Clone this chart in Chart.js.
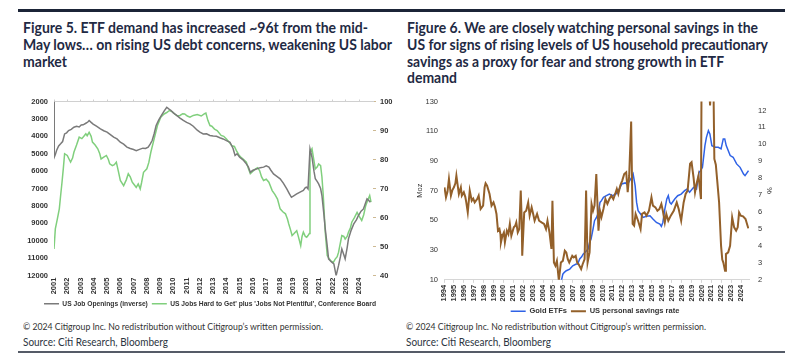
<!DOCTYPE html>
<html>
<head>
<meta charset="utf-8">
<script src="https://cdn.jsdelivr.net/npm/chart.js@4.4.1/dist/chart.umd.min.js"></script>
<style>
  body { margin: 0; width: 796px; height: 362px; background: #fff; position: relative; overflow: hidden; }
  .t { position: absolute; white-space: nowrap; transform-origin: 0 0; }
  .ttl { font: bold 14.5px/17px "Lato", sans-serif; color: #1f2a44; }
  .cp { font: 10px/12px "Lato", sans-serif; color: #333; }
  .src { font: 11px/13px "Lato", sans-serif; color: #2b3440; }
  .bar { position: absolute; background: #1b2437; }
  canvas { position: absolute; }
</style>
</head>
<body>
<div class="bar" style="left:18px;top:9px;width:767px;height:3px"></div>
<div class="bar" style="left:18px;top:351px;width:767px;height:2px;background:#555b67"></div>

<div class="t ttl" style="left:23px;top:19px" data-w="345">Figure 5. ETF demand has increased ~96t from the mid-</div>
<div class="t ttl" style="left:23px;top:36px" data-w="369">May lows… on rising US debt concerns, weakening US labor</div>
<div class="t ttl" style="left:23px;top:53px" data-w="44">market</div>

<div class="t ttl" style="left:407px;top:19px" data-w="351">Figure 6. We are closely watching personal savings in the</div>
<div class="t ttl" style="left:407px;top:36px" data-w="361">US for signs of rising levels of US household precautionary</div>
<div class="t ttl" style="left:407px;top:53px" data-w="317">savings as a proxy for fear and strong growth in ETF</div>
<div class="t ttl" style="left:407px;top:69px" data-w="50">demand</div>

<div class="t cp" style="left:23px;top:320px" data-w="300">© 2024 Citigroup Inc. No redistribution without Citigroup’s written permission.</div>
<div class="t src" style="left:23px;top:335px" data-w="145">Source: Citi Research, Bloomberg</div>
<div class="t cp" style="left:406px;top:320px" data-w="300">© 2024 Citigroup Inc. No redistribution without Citigroup’s written permission.</div>
<div class="t src" style="left:406px;top:335px" data-w="145">Source: Citi Research, Bloomberg</div>

<canvas id="c1" width="380" height="220" style="left:20px;top:95px"></canvas>
<canvas id="c2" width="390" height="225" style="left:400px;top:95px"></canvas>

<script>
// ---- Figure 5 data ----
const leftYears = [2001, 2002, 2003, 2004, 2005, 2006, 2007, 2008, 2009, 2010, 2011, 2012,
  2013, 2014, 2015, 2016, 2017, 2018, 2019, 2020, 2021, 2022, 2023, 2024];

// US job openings (thousands, plotted on inverted left axis)
const jobT = [2001.00, 2001.02, 2001.1, 2001.2, 2001.35, 2001.5, 2001.65, 2001.8, 2001.95, 2002.1,
  2002.3, 2002.5, 2002.7, 2002.9, 2003.05, 2003.2, 2003.4, 2003.55, 2003.65, 2003.8,
  2003.95, 2004.2, 2004.5, 2004.75, 2005.0, 2005.25, 2005.5, 2005.75, 2006.0, 2006.25,
  2006.5, 2006.75, 2007.0, 2007.2, 2007.45, 2007.7, 2007.9, 2008.1, 2008.25, 2008.4,
  2008.55, 2008.7, 2008.9, 2009.1, 2009.3, 2009.5, 2009.65, 2009.8, 2010.0, 2010.25,
  2010.5, 2010.75, 2011.0, 2011.25, 2011.5, 2011.8, 2012.0, 2012.25, 2012.5, 2012.75,
  2013.0, 2013.25, 2013.5, 2013.75, 2014.0, 2014.27, 2014.5, 2014.65, 2014.8, 2015.0,
  2015.25, 2015.5, 2015.65, 2015.8, 2016.0, 2016.3, 2016.55, 2016.8, 2017.0, 2017.2,
  2017.35, 2017.55, 2017.8, 2018.05, 2018.3, 2018.55, 2018.75, 2018.9, 2019.1, 2019.3,
  2019.55, 2019.8, 2019.95, 2020.05, 2020.15, 2020.3, 2020.45, 2020.6, 2020.7, 2020.85,
  2020.95, 2021.1, 2021.2, 2021.35, 2021.45, 2021.6, 2021.7, 2021.9, 2022.1, 2022.27,
  2022.45, 2022.6, 2022.7, 2022.85, 2022.95, 2023.1, 2023.2, 2023.4, 2023.6, 2023.8,
  2023.95, 2024.15, 2024.33, 2024.5, 2024.6, 2024.75, 2024.85];
const jobV = [2000, 5200, 5050, 4800, 4550, 4430, 4300, 3860, 3800, 3670,
  3600, 3480, 3420, 3460, 3350, 3340, 3250, 3180, 3090, 3200,
  3300, 3420, 3570, 3680, 3760, 3900, 4050, 4150, 4340, 4450,
  4620, 4700, 4760, 4820, 4750, 4680, 4700, 4620, 4450, 4240,
  3850, 3380, 3050, 2800, 2550, 2330, 2420, 2500, 2650, 2800,
  2950, 3090, 3200, 3280, 3420, 3650, 3760, 3860, 3850, 3950,
  3980, 4000, 4080, 4150, 4250, 4340, 4700, 5100, 5000, 5200,
  5350, 5580, 5750, 6060, 5950, 5870, 5800, 5770, 5700, 5770,
  5950, 6160, 6300, 6440, 6700, 7020, 7300, 7500, 7400, 7310,
  7200, 7110, 6950, 6920, 7020, 4720, 5200, 6000, 6440, 6600,
  6730, 7000, 7400, 8500, 9320, 10300, 11040, 11200, 11330, 12000,
  11430, 10900, 10470, 10800, 11040, 10400, 9890, 9400, 9030, 8800,
  8550, 8300, 8170, 7800, 7590, 7700, 7790];

// Jobs hard to get + not plentiful (right axis)
const hardT = [2001.0, 2001.1, 2001.25, 2001.4, 2001.5, 2001.6, 2001.7, 2001.8, 2002.0, 2002.15,
  2002.25, 2002.4, 2002.5, 2002.7, 2002.9, 2003.1, 2003.25, 2003.4, 2003.5, 2003.65,
  2003.8, 2003.9, 2004.1, 2004.3, 2004.45, 2004.55, 2004.75, 2004.95, 2005.1, 2005.2,
  2005.4, 2005.55, 2005.7, 2005.85, 2006.0, 2006.25, 2006.45, 2006.6, 2006.75, 2006.9,
  2007.05, 2007.2, 2007.35, 2007.5, 2007.6, 2007.75, 2008.0, 2008.15, 2008.3, 2008.55,
  2008.8, 2009.05, 2009.3, 2009.5, 2009.7, 2009.9, 2010.1, 2010.3, 2010.5, 2010.7,
  2010.85, 2011.05, 2011.25, 2011.5, 2011.8, 2012.1, 2012.35, 2012.45, 2012.6, 2012.76,
  2012.9, 2013.1, 2013.3, 2013.6, 2013.8, 2014.0, 2014.2, 2014.4, 2014.6, 2014.75,
  2014.95, 2015.1, 2015.3, 2015.5, 2015.65, 2015.8, 2016.0, 2016.2, 2016.35, 2016.5,
  2016.65, 2016.8, 2017.0, 2017.2, 2017.45, 2017.65, 2017.85, 2018.05, 2018.25, 2018.45,
  2018.6, 2018.7, 2018.85, 2018.95, 2019.1, 2019.3, 2019.45, 2019.6, 2019.7, 2019.8,
  2019.95, 2020.05, 2020.15, 2020.25, 2020.3, 2020.45, 2020.6, 2020.7, 2020.85, 2020.95,
  2021.1, 2021.2, 2021.3, 2021.45, 2021.6, 2021.75, 2021.85, 2022.05, 2022.2, 2022.35,
  2022.45, 2022.6, 2022.7, 2022.85, 2022.95, 2023.1, 2023.2, 2023.35, 2023.45, 2023.65,
  2023.85, 2024.0, 2024.2, 2024.35, 2024.5, 2024.65, 2024.8, 2024.9];
const hardV = [49.2, 56.1, 59.5, 63.0, 67.6, 72.0, 76.8, 82.0, 81.4, 80.0,
  79.1, 80.5, 82.5, 85.0, 87.7, 87.2, 88.0, 88.9, 88.2, 89.4,
  88.0, 86.0, 85.0, 83.7, 82.0, 80.2, 80.8, 81.4, 80.0, 78.5,
  77.9, 78.2, 79.1, 76.0, 72.8, 71.0, 73.0, 75.1, 74.0, 72.2,
  71.3, 70.4, 71.6, 69.9, 72.0, 75.6, 76.8, 79.0, 82.5, 87.1,
  91.7, 94.6, 95.7, 96.2, 96.9, 96.5, 95.7, 95.0, 95.2, 95.8,
  95.7, 95.0, 94.6, 95.2, 95.5, 95.0, 95.8, 96.0, 93.5, 91.7,
  91.5, 90.5, 90.0, 88.3, 88.0, 87.1, 86.0, 84.8, 84.5, 83.1,
  81.5, 80.8, 80.0, 79.1, 77.0, 75.1, 76.0, 76.8, 77.2, 76.2,
  74.0, 72.8, 73.2, 72.2, 69.3, 68.0, 66.4, 63.0, 62.0, 61.3,
  59.5, 57.8, 55.5, 53.8, 54.5, 55.5, 53.0, 50.3, 53.5, 55.0,
  53.5, 53.2, 53.8, 54.5, 82.5, 83.7, 79.5, 76.8, 77.5, 78.5,
  77.9, 74.0, 67.6, 55.0, 46.9, 45.8, 45.2, 44.5, 45.7, 46.5,
  48.0, 51.5, 53.8, 53.5, 52.6, 53.5, 54.9, 56.5, 58.4, 60.0,
  61.8, 60.5, 59.0, 61.0, 64.1, 66.0, 67.6, 65.3];

// ---- Figure 6 data ----
const rightYears = [1994, 1995, 1996, 1997, 1998, 1999, 2000, 2001, 2002, 2003, 2004, 2005,
  2006, 2007, 2008, 2009, 2010, 2011, 2012, 2013, 2014, 2015, 2016, 2017, 2018, 2019,
  2020, 2021, 2022, 2023, 2024];
const pctTicks = [2, 3, 4, 5, 6, 7, 8, 9, 10, 11, 12];

// Gold ETF holdings (Moz)
const etfT = [2005.85, 2006.0, 2006.15, 2006.35, 2006.7, 2007.0, 2007.35, 2007.5, 2007.7, 2007.9,
  2008.05, 2008.25, 2008.55, 2008.7, 2008.85, 2009.05, 2009.2, 2009.4, 2009.6, 2009.75,
  2009.9, 2010.1, 2010.4, 2010.7, 2011.0, 2011.35, 2011.7, 2011.95, 2012.3, 2012.45,
  2012.65, 2012.95, 2013.1, 2013.3, 2013.45, 2013.6, 2013.85, 2014.1, 2014.45, 2014.8,
  2015.1, 2015.45, 2015.8, 2015.95, 2016.1, 2016.3, 2016.5, 2016.65, 2016.8, 2016.95,
  2017.3, 2017.6, 2017.95, 2018.3, 2018.55, 2018.8, 2019.2, 2019.5, 2019.75, 2019.9,
  2020.1, 2020.35, 2020.5, 2020.7, 2020.85, 2021.05, 2021.4, 2021.7, 2021.98, 2022.2,
  2022.35, 2022.5, 2022.9, 2023.2, 2023.55, 2023.9, 2024.25, 2024.4, 2024.75];
const etfV = [9.3, 13.8, 15.0, 16.1, 17.2, 19.4, 20.6, 20.6, 24.0, 25.5,
  27.3, 28.5, 30.7, 35.2, 37.4, 44.2, 49.8, 52.0, 55.4, 62.1,
  63.3, 65.5, 66.6, 67.7, 66.6, 67.7, 71.1, 74.5, 75.2, 74.5,
  75.6, 79.0, 81.2, 73.4, 62.1, 56.5, 54.3, 52.0, 52.8, 53.1,
  50.9, 48.6, 47.5, 46.0, 48.6, 57.6, 64.4, 66.6, 62.1, 61.0,
  64.4, 66.6, 67.7, 70.0, 71.1, 68.9, 72.2, 71.1, 82.3, 83.4,
  85.7, 100.3, 105.9, 110.4, 108.2, 100.3, 99.2, 99.2, 98.1, 104.8,
  104.8, 100.3, 93.6, 92.5, 88.0, 85.7, 81.2, 80.1, 83.4];

// US personal savings rate (%)
const savT = [1994.05, 1994.2, 1994.35, 1994.5, 1994.7, 1994.85, 1995.0, 1995.15, 1995.25, 1995.4,
  1995.5, 1995.7, 1995.8, 1996.0, 1996.15, 1996.25, 1996.4, 1996.6, 1996.8, 1996.95,
  1997.1, 1997.35, 1997.5, 1997.7, 1997.95, 1998.1, 1998.2, 1998.35, 1998.6, 1998.8,
  1999.0, 1999.15, 1999.3, 1999.45, 1999.6, 1999.7, 1999.75, 1999.9, 2000.05, 2000.15,
  2000.35, 2000.5, 2000.65, 2000.8, 2001.05, 2001.2, 2001.3, 2001.45, 2001.6, 2001.75,
  2001.85, 2001.9, 2002.1, 2002.3, 2002.5, 2002.65, 2002.85, 2003.0, 2003.15, 2003.4,
  2003.6, 2003.85, 2004.1, 2004.3, 2004.45, 2004.65, 2004.85, 2004.95, 2005.1, 2005.25,
  2005.4, 2005.6, 2005.8, 2006.0, 2006.2, 2006.35, 2006.5, 2006.65, 2006.8, 2006.95,
  2007.1, 2007.3, 2007.45, 2007.6, 2007.85, 2008.0, 2008.2, 2008.35, 2008.5, 2008.7,
  2008.9, 2009.05, 2009.2, 2009.38, 2009.5, 2009.6, 2009.75, 2009.9, 2010.1, 2010.3,
  2010.5, 2010.7, 2010.9, 2011.1, 2011.3, 2011.45, 2011.6, 2011.8, 2012.0, 2012.2,
  2012.4, 2012.55, 2012.7, 2012.9, 2013.05, 2013.2, 2013.35, 2013.6, 2013.85, 2014.0,
  2014.25, 2014.45, 2014.7, 2014.95, 2015.1, 2015.35, 2015.55, 2015.75, 2015.95, 2016.1,
  2016.3, 2016.45, 2016.65, 2016.9, 2017.2, 2017.5, 2017.7, 2017.95, 2018.2, 2018.4,
  2018.6, 2018.85, 2019.0, 2019.2, 2019.35, 2019.5, 2019.7, 2019.95, 2020.17, 2020.3,
  2020.45, 2020.6, 2020.75, 2020.87, 2021.0, 2021.15, 2021.22, 2021.3, 2021.45, 2021.6,
  2021.78, 2021.98, 2022.1, 2022.21, 2022.38, 2022.47, 2022.7, 2022.89, 2023.1, 2023.3,
  2023.5, 2023.66, 2023.8, 2023.97, 2024.2, 2024.45, 2024.73];
const savV = [7.46, 6.87, 7.2, 7.96, 6.97, 7.3, 7.46, 7.7, 8.15, 7.5,
  7.07, 7.46, 6.97, 7.17, 6.9, 6.57, 5.98, 7.27, 6.67, 6.8,
  6.57, 6.77, 6.97, 6.18, 6.38, 7.46, 7.7, 7.56, 7.07, 6.38,
  6.57, 6.3, 5.89, 4.9, 5.0, 4.7, 4.21, 4.6, 4.8, 4.21,
  4.9, 4.7, 5.3, 4.6, 5.1, 5.2, 5.39, 4.8, 5.0, 7.27,
  5.5, 3.42, 5.98, 6.08, 6.57, 5.79, 6.28, 5.9, 5.49, 5.89,
  5.49, 5.39, 5.3, 5.0, 5.49, 4.8, 3.82, 6.67, 3.02, 2.83,
  3.12, 1.95, 3.02, 3.12, 3.72, 3.62, 3.22, 3.02, 3.22, 3.42,
  3.32, 3.42, 3.02, 2.92, 2.63, 2.92, 3.22, 7.27, 3.02, 3.62,
  6.48, 6.08, 6.38, 8.25, 6.4, 4.9, 6.08, 5.7, 6.18, 6.77,
  6.48, 6.77, 6.97, 6.77, 7.1, 7.37, 7.07, 7.56, 7.86, 8.25,
  8.35, 7.17, 8.15, 11.35, 5.3, 5.2, 5.89, 5.49, 5.0, 5.89,
  5.98, 5.79, 6.08, 6.87, 6.38, 6.28, 6.08, 6.18, 6.48, 6.08,
  5.39, 5.89, 5.49, 5.79, 6.08, 6.57, 6.18, 5.49, 6.57, 7.07,
  7.27, 8.85, 8.94, 8.05, 7.17, 7.66, 8.15, 6.77, 33.0, 24.0,
  19.0, 15.0, 13.5, 12.3, 13.8, 26.0, 13.0, 9.14, 8.8, 7.8,
  6.57, 4.0, 3.2, 3.02, 2.53, 3.52, 3.62, 4.01, 5.69, 5.1,
  4.9, 5.1, 5.98, 5.79, 5.75, 5.59, 5.04];

// squeeze the html text lines to the widths they take in the original
document.querySelectorAll('[data-w]').forEach(el => {
  const w = +el.dataset.w;
  el.style.transform = 'scaleX(' + (w / el.getBoundingClientRect().width) + ')';
});

Chart.defaults.font.family = "'Liberation Sans', Arial, sans-serif";
Chart.defaults.color = '#333';

const pts = (t, v) => t.map((x, i) => ({x: x, y: v[i]}));
const setTicks = list => scale => { scale.ticks = list.map(v => ({value: v})); };
const fixW = w => scale => { scale.width = w; };
const tickFont = {size: 7.5, weight: 'bold'};

// build once to learn the margins round the plot, then rebuild so the plot sits at top..bottom
function place(id, makeCfg, top, bottom) {
  const cv = document.getElementById(id);
  let ch = new Chart(cv, makeCfg());
  const a = ch.chartArea.top, b = ch.height - ch.chartArea.bottom;
  ch.destroy();
  cv.height = Math.round(bottom - top + a + b);
  cv.style.top = Math.round(top - a) + 'px';
  return new Chart(cv, makeCfg());
}

const leftCfg = () => ({
  type: 'line',
  data: {
    datasets: [
      {
        label: 'US Job Openings (inverse)',
        data: pts(jobT, jobV),
        borderColor: '#7a7a7a', backgroundColor: '#7a7a7a',
        borderWidth: 1.5, pointRadius: 0, yAxisID: 'y'
      },
      {
        label: "US Jobs Hard to Get' plus 'Jobs Not Plentiful', Conference Board",
        data: pts(hardT, hardV),
        borderColor: '#80cf7d', backgroundColor: '#80cf7d',
        borderWidth: 1.5, pointRadius: 0, yAxisID: 'y1'
      }
    ]
  },
  options: {
    responsive: false, maintainAspectRatio: false, animation: false, devicePixelRatio: 1,
    layout: {padding: 0},
    plugins: {
      tooltip: {enabled: false},
      legend: {
        position: 'bottom',
        labels: {usePointStyle: true, pointStyle: 'line', pointStyleWidth: 15,
          padding: 4, font: {size: 6.7, weight: 'bold'}, color: '#333'}
      }
    },
    scales: {
      x: {
        type: 'linear', position: 'bottom', min: 2001, max: 2025.05,
        afterBuildTicks: setTicks(leftYears),
        grid: {display: false, drawTicks: false}, border: {display: false},
        ticks: {font: tickFont, minRotation: 90, maxRotation: 90, autoSkip: false,
          padding: 2, callback: v => String(v)}
      },
      xTop: {
        type: 'linear', position: 'top', min: 2001, max: 2025.05,
        afterBuildTicks: setTicks(leftYears),
        grid: {drawOnChartArea: false, tickLength: 2, color: '#d0d0d0'},
        border: {color: '#d0d0d0'},
        ticks: {display: false}
      },
      y: {
        position: 'left', reverse: true, min: 2000, max: 12000,
        afterFit: fixW(34),
        grid: {display: false, tickLength: 6}, border: {display: false},
        ticks: {stepSize: 1000, font: tickFont, padding: 0, callback: v => String(v)}
      },
      y1: {
        position: 'right', min: 40, max: 100,
        afterFit: fixW(27),
        grid: {drawOnChartArea: false, tickLength: 3, color: '#cdb993'},
        border: {display: false},
        ticks: {stepSize: 10, font: tickFont, padding: 4}
      }
    }
  }
});

const rightCfg = () => ({
  type: 'line',
  data: {
    datasets: [
      {
        label: 'Gold ETFs',
        data: pts(etfT, etfV),
        borderColor: '#2f62e6', backgroundColor: '#2f62e6',
        borderWidth: 1.5, pointRadius: 0, yAxisID: 'y', order: 1
      },
      {
        label: 'US personal savings rate',
        data: pts(savT, savV),
        borderColor: '#93602a', backgroundColor: '#93602a',
        borderWidth: 2, pointRadius: 0, yAxisID: 'y1', order: 0
      }
    ]
  },
  options: {
    responsive: false, maintainAspectRatio: false, animation: false, devicePixelRatio: 1,
    layout: {padding: 0},
    plugins: {
      tooltip: {enabled: false},
      legend: {
        position: 'bottom',
        labels: {usePointStyle: true, pointStyle: 'line', pointStyleWidth: 15,
          padding: 4, font: {size: 7.5, weight: 'bold'}, color: '#333',
          sort: (a, b) => a.datasetIndex - b.datasetIndex}
      }
    },
    scales: {
      x: {
        type: 'linear', position: 'bottom', min: 1994, max: 2024.8,
        afterBuildTicks: setTicks(rightYears),
        grid: {drawOnChartArea: false, tickLength: 3, color: '#d6d6d6'},
        border: {color: '#d6d6d6'},
        ticks: {font: tickFont, minRotation: 90, maxRotation: 90, autoSkip: false,
          padding: 2, callback: v => String(v)}
      },
      y: {
        position: 'left', min: 10, max: 130,
        afterFit: fixW(44),
        title: {display: true, text: 'Moz', font: {size: 7.5}, padding: {top: 15, bottom: 0}},
        grid: {display: false, tickLength: 6}, border: {display: false},
        ticks: {stepSize: 20, font: {size: 7.5}, padding: 0}
      },
      y1: {
        position: 'right', min: 2, max: 12.53,
        afterBuildTicks: setTicks(pctTicks),
        afterFit: fixW(41),
        title: {display: true, text: '%', font: {size: 7.5}, padding: {top: 16, bottom: 0}},
        grid: {display: false, tickLength: 9}, border: {display: false},
        ticks: {font: {size: 7.5}, padding: 0}
      }
    }
  }
});

place('c1', leftCfg, 101, 275);
place('c2', rightCfg, 101, 279);
</script>
</body>
</html>
